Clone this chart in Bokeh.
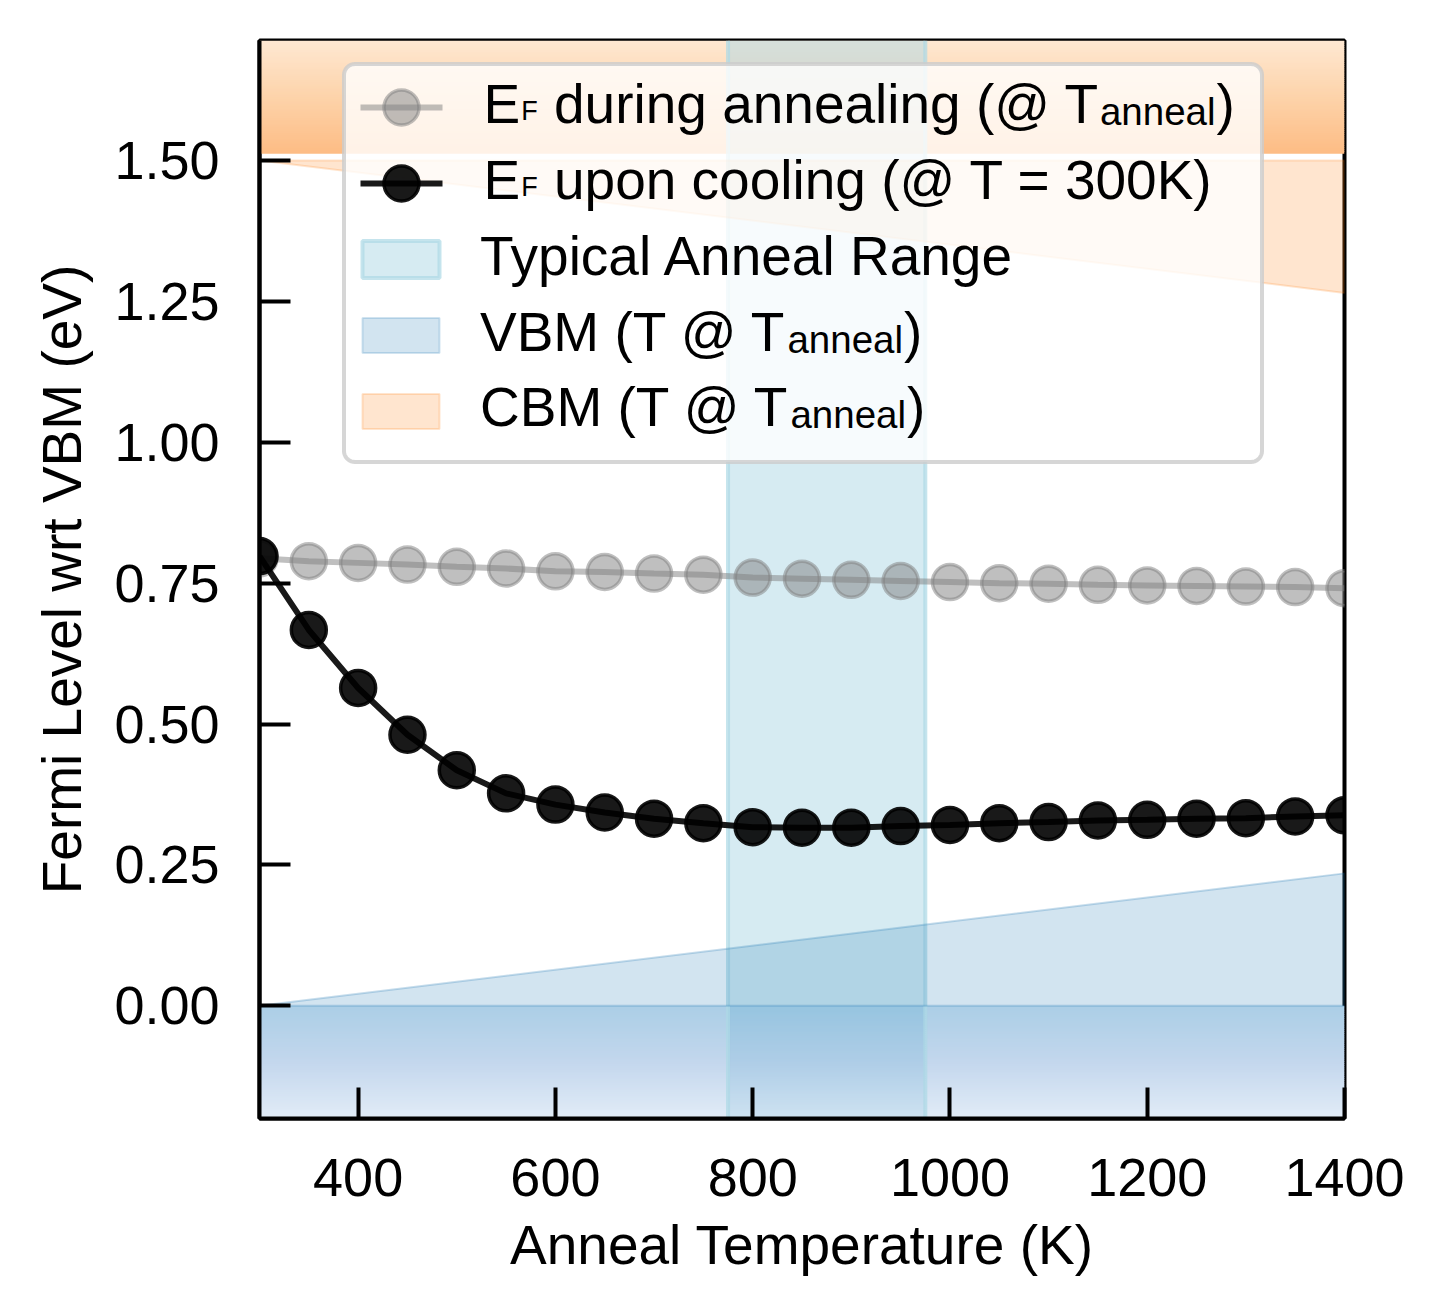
import numpy as np
from bokeh.plotting import figure
from bokeh.models import Range1d, FixedTicker, NumeralTickFormatter
from bokeh.core.properties import value
from bokeh.embed import file_html
from bokeh.resources import INLINE

# ---------------- data ----------------
anneal_T = [300, 350, 400, 450, 500, 550, 600, 650, 700, 750, 800, 850,
            900, 950, 1000, 1050, 1100, 1150, 1200, 1250, 1300, 1350, 1400]
ef_during = [0.794, 0.789, 0.786, 0.783, 0.779, 0.776, 0.771, 0.770, 0.767, 0.765,
             0.760, 0.758, 0.756, 0.754, 0.752, 0.750, 0.749, 0.747, 0.746, 0.745,
             0.744, 0.743, 0.741]
ef_cooled = [0.798, 0.667, 0.564, 0.481, 0.418, 0.377, 0.357, 0.343, 0.332, 0.324,
             0.317, 0.316, 0.316, 0.319, 0.321, 0.324, 0.326, 0.329, 0.330, 0.332,
             0.333, 0.336, 0.338]
edge_T = [300, 1400]
vbm_shift = [0.0, 0.235]
cbm_level = [1.50, 1.265]
cbm_grad_start = 1.512
typical_range = [775, 975]
x_limits = [300, 1400]
y_limits = [-0.2, 1.713]
x_ticks = [400, 600, 800, 1000, 1200, 1400]
y_ticks = [0.0, 0.25, 0.5, 0.75, 1.0, 1.25, 1.5]
x_title = "Anneal Temperature (K)"
y_title = "Fermi Level wrt VBM (eV)"
legend_rows = [
    [("E", "main"), ("F", "subF"), (" during annealing (@ T", "main"), ("anneal", "sub"), (")", "main")],
    [("E", "main"), ("F", "subF"), (" upon cooling (@ T = 300K)", "main")],
    [("Typical Anneal Range", "main")],
    [("VBM (T @ T", "main"), ("anneal", "sub"), (")", "main")],
    [("CBM (T @ T", "main"), ("anneal", "sub"), (")", "main")],
]

# ---------------- layout ----------------
FONT = "Liberation Sans"
W, H = 1426, 1299
FL, FR, FT, FB = 259, 1344, 40, 1118
ML, MR, MT, MB = FL, W - FR, FT, H - FB


def dx(px):
    return x_limits[0] + (px - FL) / (FR - FL) * (x_limits[1] - x_limits[0])


def dy(py):
    return y_limits[1] - (py - FT) / (FB - FT) * (y_limits[1] - y_limits[0])


def lerp_stops(stops, t):
    for (t0, c0), (t1, c1) in zip(stops[:-1], stops[1:]):
        if t0 <= t <= t1:
            f = (t - t0) / (t1 - t0)
            return tuple(c0[k] + f * (c1[k] - c0[k]) for k in range(3))
    return stops[-1][1]


def hexc(c):
    return "#%02x%02x%02x" % tuple(int(round(max(0, min(255, v)))) for v in c)


p = figure(width=W, height=H, x_range=Range1d(*x_limits), y_range=Range1d(*y_limits),
           output_backend="svg", toolbar_location=None,
           min_border_left=ML, min_border_right=MR, min_border_top=MT, min_border_bottom=MB,
           background_fill_color="white", border_fill_color="white")
p.grid.visible = False
p.outline_line_color = "black"
p.outline_line_width = 4
p.outline_line_alpha = 1.0

for ax in (p.xaxis[0], p.yaxis[0]):
    ax.axis_line_width = 4
    ax.axis_line_color = "black"
    ax.major_tick_in = 31
    ax.major_tick_out = 0
    ax.major_tick_line_width = 4
    ax.major_tick_line_color = "black"
    ax.minor_tick_line_color = None
    ax.major_label_text_font = FONT
    ax.major_label_text_font_size = "54px"
    ax.major_label_text_color = "black"
    ax.axis_label_text_font = FONT
    ax.axis_label_text_font_size = "55px"
    ax.axis_label_text_font_style = "normal"
    ax.axis_label_text_color = "black"

p.xaxis.ticker = FixedTicker(ticks=x_ticks)
p.yaxis.ticker = FixedTicker(ticks=y_ticks)
p.xaxis.formatter = NumeralTickFormatter(format="0")
p.yaxis.formatter = NumeralTickFormatter(format="0.00")
p.xaxis.major_label_standoff = 40
p.yaxis.major_label_standoff = 40
p.xaxis.axis_label_standoff = 15
p.yaxis.axis_label_standoff = 18
p.xaxis.axis_label = x_title
p.yaxis.axis_label = y_title

# ---------------- background gradients ----------------
N = 60
top_stops = [(0.0, (253, 188, 132)), (0.5, (253, 211, 170)), (1.0, (254, 232, 210))]
h = (y_limits[1] - cbm_grad_start) / N
tb, tt, tc = [], [], []
for i in range(N):
    tb.append(cbm_grad_start + i * h)
    tt.append(cbm_grad_start + (i + 1.6) * h if i < N - 1 else y_limits[1])
    tc.append(hexc(lerp_stops(top_stops, (i + 0.5) / N)))
p.quad(left=x_limits[0], right=x_limits[1], bottom=tb, top=tt, fill_color=tc, line_color=None)

# band fill (under bottom gradient composite)
band_rgb = (173, 216, 230)
band_on_white = tuple(0.5 * c + 0.5 * 255 for c in band_rgb)
p.quad(left=typical_range[0], right=typical_range[1], bottom=y_limits[0], top=y_limits[1],
       fill_color="#add8e6", fill_alpha=0.5, line_color=None)

# bottom gradient (semi-transparent blue composited over white / band)
bot_stops = [(0.0, (197, 217, 239)), (0.5, (135, 175, 219)), (1.0, (87, 157, 205))]
h = (0.0 - y_limits[0]) / N
bb, bt, oc, ic = [], [], [], []
for i in range(N):
    bb.append(y_limits[0] + i * h)
    bt.append(y_limits[0] + (i + 1.6) * h if i < N - 1 else 0.0)
    c = lerp_stops(bot_stops, (i + 0.5) / N)
    oc.append(hexc(tuple(0.5 * c[k] + 0.5 * 255 for k in range(3))))
    ic.append(hexc(tuple(0.5 * c[k] + 0.5 * band_on_white[k] for k in range(3))))
p.quad(left=x_limits[0], right=typical_range[0], bottom=bb, top=bt, fill_color=oc, line_color=None)
p.quad(left=typical_range[1], right=x_limits[1], bottom=bb, top=bt, fill_color=oc, line_color=None)
p.quad(left=typical_range[0], right=typical_range[1], bottom=bb, top=bt, fill_color=ic, line_color=None)

# band edges
p.segment(x0=typical_range, y0=[y_limits[0]] * 2, x1=typical_range, y1=[y_limits[1]] * 2,
          line_color="#add8e6", line_alpha=0.7, line_width=4)

# VBM / CBM temperature shifts
p.patch(x=[edge_T[0], edge_T[1], edge_T[1]], y=[vbm_shift[0], vbm_shift[1], 0.0],
        fill_color="#1f77b4", fill_alpha=0.2, line_color="#1f77b4", line_alpha=0.25, line_width=2)
p.patch(x=[edge_T[0], edge_T[1], edge_T[1]], y=[cbm_level[0], cbm_level[1], cbm_level[0]],
        fill_color="#ff7f0e", fill_alpha=0.2, line_color="#ff7f0e", line_alpha=0.2, line_width=2)

# ---------------- data series ----------------
p.line(anneal_T, ef_during, line_color="gray", line_alpha=0.5, line_width=6)
p.scatter(anneal_T, ef_during, marker="circle", size=35, fill_color="gray", fill_alpha=0.5,
          line_color="gray", line_alpha=0.5, line_width=3.5)
p.line(anneal_T, ef_cooled, line_color="black", line_alpha=0.9, line_width=6)
p.scatter(anneal_T, ef_cooled, marker="circle", size=35, fill_color="black", fill_alpha=0.9,
          line_color="black", line_alpha=0.9, line_width=3.5)

# ---------------- legend (drawn manually for sub-scripts) ----------------
L, R, T_, B, rad = 343.5, 1261.5, 63.5, 461.5, 11
pts = []
for (cx, cy, a0) in [(R - rad, T_ + rad, -90), (R - rad, B - rad, 0), (L + rad, B - rad, 90), (L + rad, T_ + rad, 180)]:
    for a in np.linspace(a0, a0 + 90, 10):
        pts.append((cx + rad * np.cos(np.radians(a)), cy + rad * np.sin(np.radians(a))))
p.patch(x=[dx(a) for a, b in pts], y=[dy(b) for a, b in pts],
        fill_color="white", fill_alpha=0.8, line_color="#cccccc", line_alpha=0.8, line_width=4)

cys = [107, 183, 259, 335, 411]
bases = [125 - 22, 201 - 22, 277.5 - 22, 353 - 22, 428 - 22]

# line handles
p.line([dx(360), dx(442)], [dy(cys[0])] * 2, line_color="gray", line_alpha=0.5, line_width=6)
p.scatter([dx(401)], [dy(cys[0])], marker="circle", size=35, fill_color="gray", fill_alpha=0.5,
          line_color="gray", line_alpha=0.5, line_width=3.5)
p.line([dx(360), dx(442)], [dy(cys[1])] * 2, line_color="black", line_alpha=0.9, line_width=6)
p.scatter([dx(401)], [dy(cys[1])], marker="circle", size=35, fill_color="black", fill_alpha=0.9,
          line_color="black", line_alpha=0.9, line_width=3.5)
# patch handles
p.quad(left=dx(362), right=dx(439), top=dy(cys[2] - 18.5), bottom=dy(cys[2] + 18.5),
       fill_color="#add8e6", fill_alpha=0.5, line_color="#add8e6", line_alpha=0.7, line_width=4)
p.quad(left=dx(362), right=dx(439), top=dy(cys[3] - 17.5), bottom=dy(cys[3] + 17.5),
       fill_color="#1f77b4", fill_alpha=0.2, line_color="#1f77b4", line_alpha=0.2, line_width=2)
p.quad(left=dx(362), right=dx(439), top=dy(cys[4] - 17.5), bottom=dy(cys[4] + 17.5),
       fill_color="#ff7f0e", fill_alpha=0.2, line_color="#ff7f0e", line_alpha=0.2, line_width=2)

ARIAL = {' ': 278, '(': 333, ')': 333, '@': 1015, '=': 584, '0': 556, '3': 556, 'A': 667,
         'B': 667, 'C': 722, 'E': 667, 'F': 611, 'K': 667, 'M': 833, 'R': 722, 'T': 611,
         'V': 667, 'a': 556, 'c': 500, 'd': 556, 'e': 556, 'g': 556, 'i': 222, 'l': 222,
         'n': 556, 'o': 556, 'p': 556, 'r': 333, 't': 278, 'u': 556, 'y': 500, 'm': 833,
         'w': 722, 'v': 500}
STYLE = {"main": (55.0, 0.0), "sub": (38.5, 8.0), "subF": (27.0, 7.0)}
starts = [483, 483, 479.5, 479.5, 479.5]


def tw(s, size):
    return sum(ARIAL.get(ch, 556) for ch in s) / 1000.0 * size


for row, x0, base in zip(legend_rows, starts, bases):
    x = x0
    for txt, kind in row:
        size, off = STYLE[kind]
        core = txt.lstrip(" ")
        x += tw(txt[:len(txt) - len(core)], size)
        p.text(x=[dx(x)], y=[dy(base + off)], text=[core], text_font=value(FONT),
               text_font_size=value("%gpx" % size), text_baseline="alphabetic",
               text_align="left", text_color="black")
        x += tw(core, size) + 1

open("out.html", "w").write(file_html(p, INLINE))
